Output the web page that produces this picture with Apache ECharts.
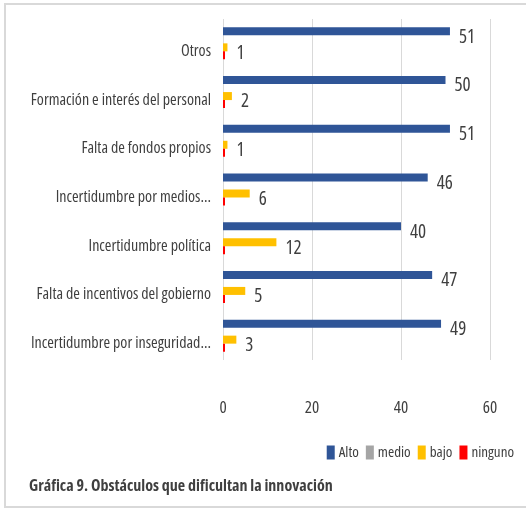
<!DOCTYPE html>
<html>
<head>
<meta charset="utf-8">
<script src="https://cdn.jsdelivr.net/npm/echarts@6/dist/echarts.min.js"></script>
<style>
  html, body { margin: 0; padding: 0; background: #ffffff; }
  #chart { width: 526px; height: 510px; }
</style>
</head>
<body>
<div id="chart"></div>
<script>
// Categories (top to bottom as shown)
const categories = [
  'Otros',
  'Formación e interés del personal',
  'Falta de fondos propios',
  'Incertidumbre por medios...',
  'Incertidumbre política',
  'Falta de incentivos del gobierno',
  'Incertidumbre por inseguridad...'
];
const alto    = [51, 50, 51, 46, 40, 47, 49];
const medio   = [0, 0, 0, 0, 0, 0, 0];
const bajo    = [1, 2, 1, 6, 12, 5, 3];
const ninguno = [0, 0, 0, 0, 0, 0, 0];
const xTicks  = [0, 20, 40, 60];
const seriesNames = ['Alto', 'medio', 'bajo', 'ninguno'];
const titleText = 'Gráfica 9. Obstáculos que dificultan la innovación';

const FONT = "'Open Sans', 'DejaVu Sans Condensed', sans-serif";
const STRETCH = 'condensed';
const TXT = '#3f3f3f';

const chart = echarts.init(document.getElementById('chart'), null, { renderer: 'canvas' });

const valueLabel = {
  show: true,
  position: 'right',
  distance: 9,
  offset: [0, 6],
  color: TXT,
  fontFamily: FONT,
  fontStyle: STRETCH,
  fontSize: 19
};

chart.setOption({
  animation: false,
  backgroundColor: '#ffffff',
  textStyle: { fontFamily: FONT, fontStyle: STRETCH },
  graphic: [{
    type: 'rect',
    shape: { x: 5, y: 4, width: 540, height: 503 },
    style: { fill: 'none', stroke: '#d9d9d9', lineWidth: 2 },
    silent: true
  }],
  title: {
    text: titleText,
    left: 29,
    top: 478,
    padding: 0,
    textStyle: { fontFamily: FONT, fontStyle: STRETCH, fontWeight: 'bold', fontSize: 16, color: TXT }
  },
  legend: {
    data: seriesNames,
    right: 12,
    top: 445,
    padding: 0,
    icon: 'rect',
    itemWidth: 8,
    itemHeight: 14,
    itemGap: 7,
    textStyle: { fontFamily: FONT, fontStyle: STRETCH, fontSize: 15, color: TXT, padding: [0, 0, 0, -1] }
  },
  grid: {
    left: 223,
    right: 36,
    top: 19,
    height: 341,
    outerBoundsMode: 'none',
    containLabel: false
  },
  xAxis: {
    type: 'value',
    min: xTicks[0],
    max: xTicks[xTicks.length - 1],
    interval: 20,
    axisLine: { show: false },
    axisTick: { show: false },
    splitLine: { show: true, lineStyle: { color: '#d9d9d9', width: 1 } },
    axisLabel: { margin: 40, color: TXT, fontFamily: FONT, fontStyle: STRETCH, fontSize: 17 }
  },
  yAxis: {
    type: 'category',
    data: categories,
    inverse: true,
    axisLine: { show: false },
    axisTick: { show: false },
    axisLabel: {
      margin: 12,
      color: TXT,
      fontFamily: FONT,
      fontStyle: STRETCH,
      fontSize: 16,
      verticalAlign: 'top'
    }
  },
  series: [
    { name: seriesNames[0], type: 'bar', data: alto, barWidth: 8, barGap: '0%',
      itemStyle: { color: '#2F5597' }, label: valueLabel },
    { name: seriesNames[1], type: 'bar', data: medio, barWidth: 8, barGap: '0%',
      itemStyle: { color: '#A5A5A5' } },
    { name: seriesNames[2], type: 'bar', data: bajo, barWidth: 8, barGap: '0%',
      itemStyle: { color: '#FFC000' }, label: valueLabel },
    { name: seriesNames[3], type: 'bar', data: ninguno, barWidth: 8, barGap: '0%', barMinHeight: 2,
      itemStyle: { color: '#FF0000' } }
  ]
});
</script>
</body>
</html>
